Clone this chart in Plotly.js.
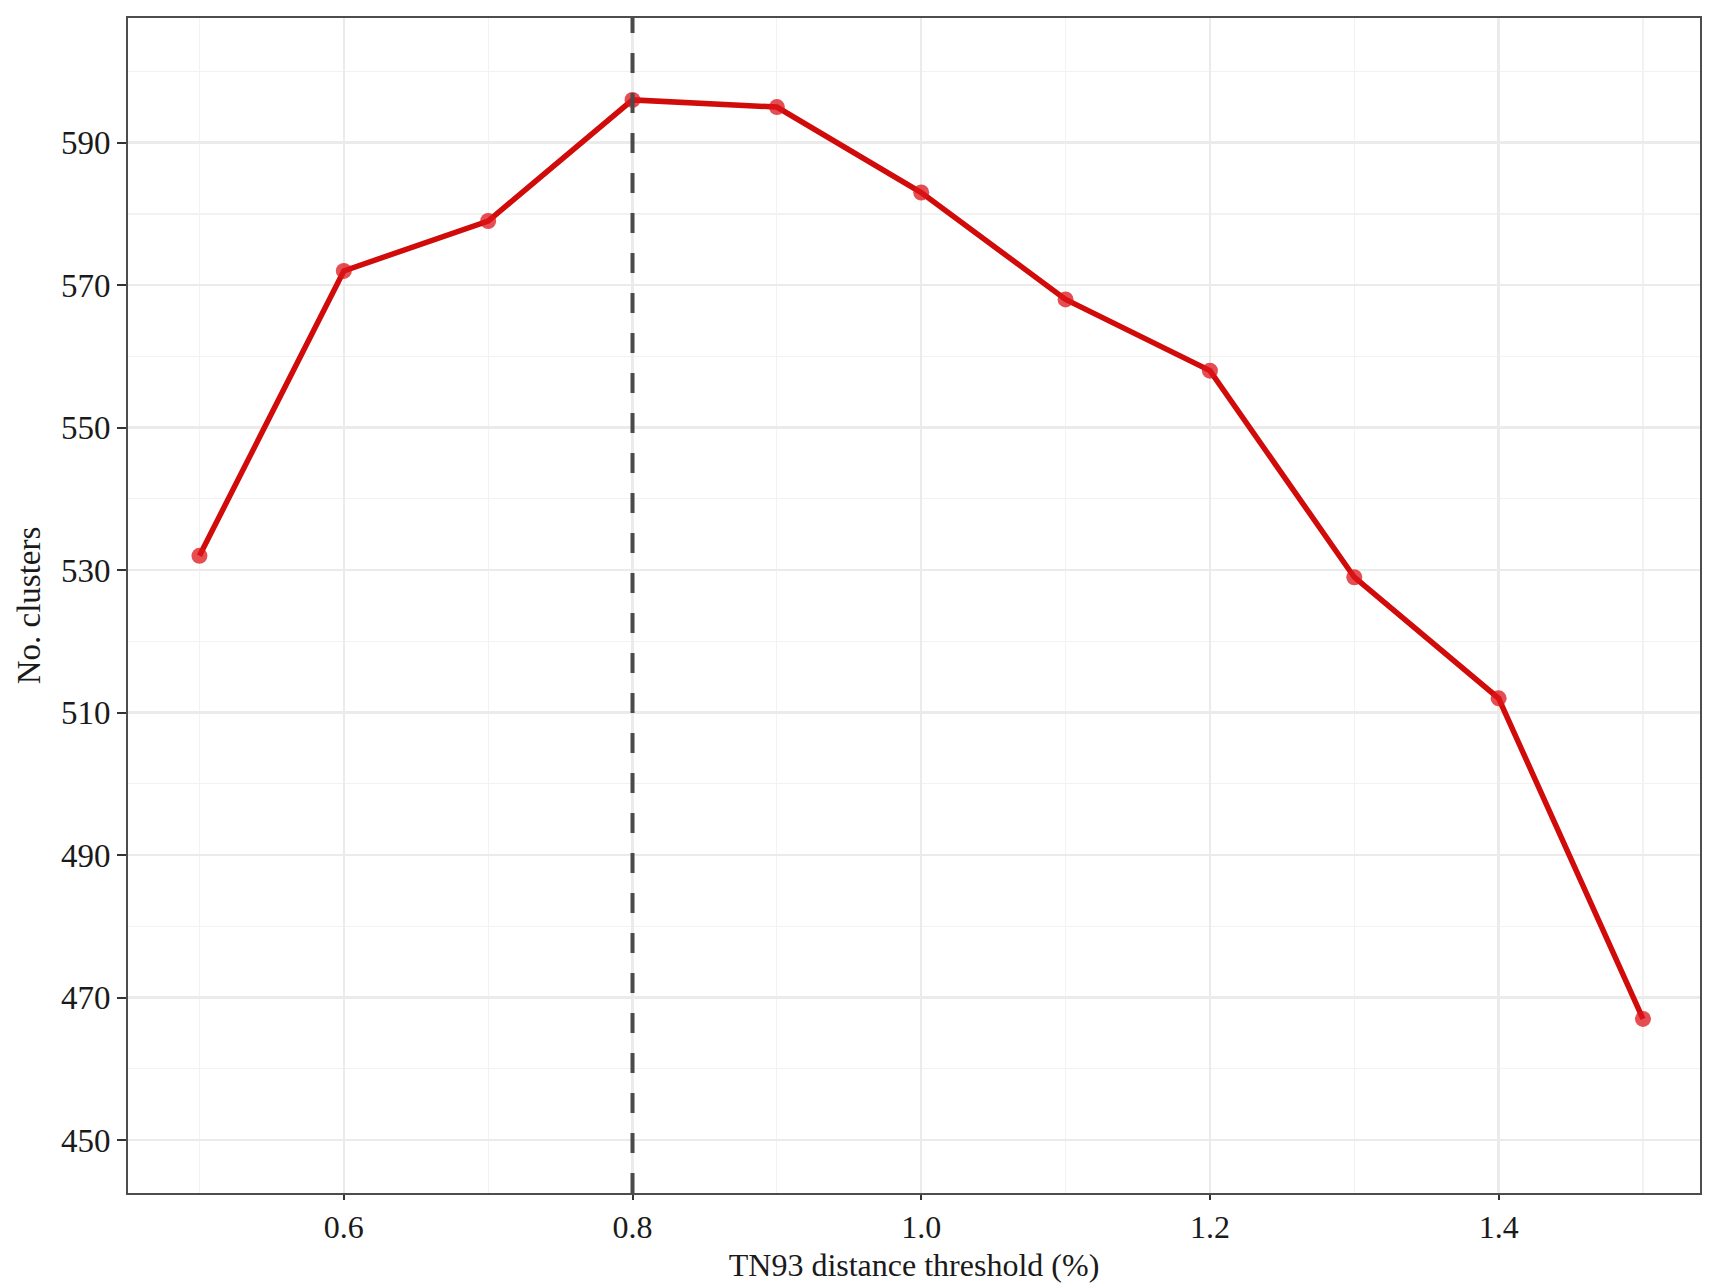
<!DOCTYPE html>
<html>
<head>
<meta charset="utf-8">
<script src="https://cdn.plot.ly/plotly-3.0.1.min.js"></script>
<style>html,body{margin:0;padding:0;background:#fff;}#chart{width:1734px;height:1283px;}</style>
</head>
<body>
<div id="chart"></div>
<script>
const thresholds = [0.5, 0.6, 0.7, 0.8, 0.9, 1.0, 1.1, 1.2, 1.3, 1.4, 1.5];
const clusters = [532, 572, 579, 596, 595, 583, 568, 558, 529, 512, 467];
const cutoff = 0.8;
const xTitle = 'TN93 distance threshold (%)';
const yTitle = 'No. clusters';

const fontFam = '"Liberation Serif", "Times New Roman", serif';

const traces = [
  {
    x: thresholds, y: clusters, type: 'scatter', mode: 'lines',
    line: {color: '#D10A0A', width: 5.5},
    hoverinfo: 'skip', showlegend: false
  },
  {
    x: thresholds, y: clusters, type: 'scatter', mode: 'markers',
    marker: {color: 'rgba(220,20,25,0.75)', size: 16, line: {width: 0}},
    showlegend: false
  }
];

const layout = {
  width: 1734, height: 1283,
  margin: {l: 128, r: 34, t: 18, b: 90},
  paper_bgcolor: '#ffffff', plot_bgcolor: '#ffffff',
  font: {family: fontFam, size: 33, color: '#1a1a1a'},
  showlegend: false,
  xaxis: {
    range: [0.4505, 1.5395],
    tick0: 0.6, dtick: 0.2, tickformat: '.1f',
    showgrid: true, gridcolor: '#EBEBEB', gridwidth: 2.5,
    minor: {tick0: 0.5, dtick: 0.1, showgrid: true, gridcolor: '#F2F2F2', gridwidth: 1.2, ticks: ''},
    zeroline: false,
    showline: true, mirror: true, linecolor: '#4d4d4d', linewidth: 1.8,
    ticks: 'outside', ticklen: 5, tickwidth: 2, tickcolor: '#333333',
    tickfont: {family: fontFam, size: 32, color: '#1a1a1a'},
    title: {text: xTitle, font: {family: fontFam, size: 32, color: '#1a1a1a'}, standoff: 12}
  },
  yaxis: {
    range: [442.56, 607.5],
    tick0: 450, dtick: 20,
    showgrid: true, gridcolor: '#EBEBEB', gridwidth: 2.5,
    minor: {tick0: 460, dtick: 10, showgrid: true, gridcolor: '#F2F2F2', gridwidth: 1.2, ticks: ''},
    zeroline: false,
    showline: true, mirror: true, linecolor: '#4d4d4d', linewidth: 1.8,
    ticks: 'outside', ticklen: 9, tickwidth: 2, tickcolor: '#333333',
    tickfont: {family: fontFam, size: 33, color: '#1a1a1a'},
    title: {text: yTitle, font: {family: fontFam, size: 33, color: '#1a1a1a'}, standoff: 10}
  },
  shapes: [
    {
      type: 'line', xref: 'x', yref: 'paper', x0: cutoff, x1: cutoff, y0: 0, y1: 1,
      line: {color: '#4a4a4a', width: 4, dash: '20px,20px'},
      layer: 'above'
    }
  ]
};

Plotly.newPlot('chart', traces, layout, {displayModeBar: false, staticPlot: true});
</script>
</body>
</html>
